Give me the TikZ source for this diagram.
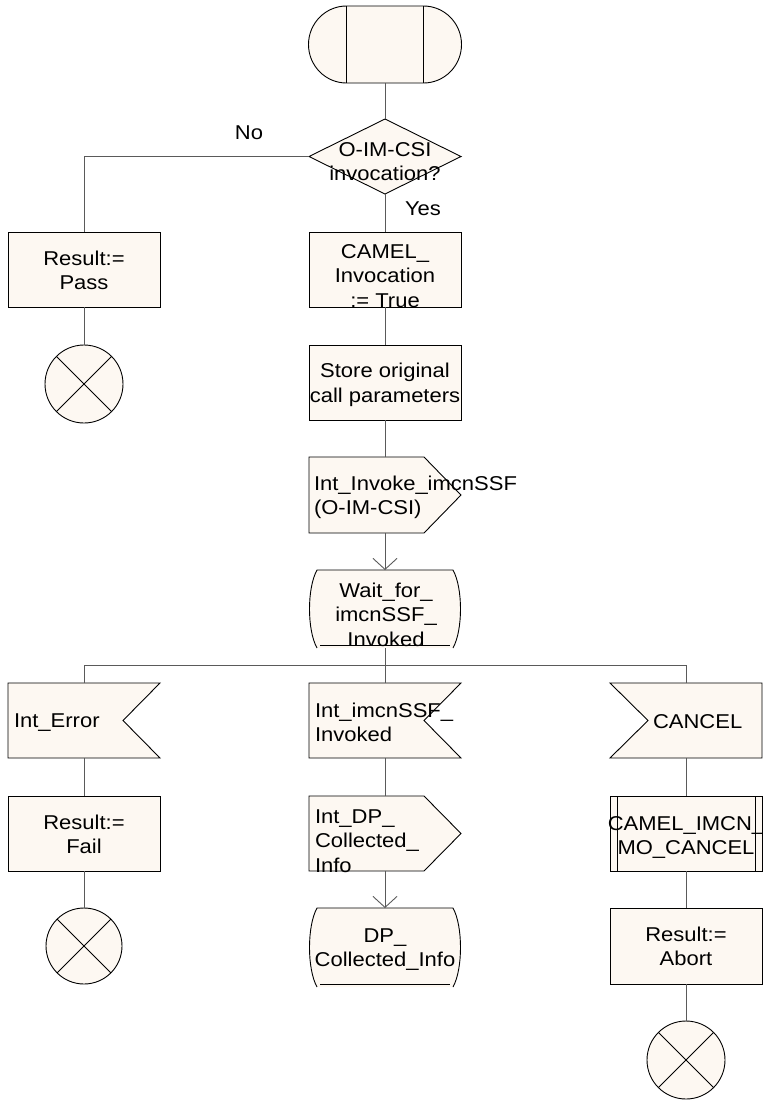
\documentclass[tikz,border=0pt]{standalone}
\usepackage{fontspec}
\setmainfont{Liberation Sans}[FakeStretch=1.1]
\usetikzlibrary{arrows.meta,calc}
\definecolor{cream}{RGB}{253,248,242}
\definecolor{lgrey}{RGB}{90,90,90}
\newcommand\sdlstate[1]{%
  \fill[cream] ($(#1.north west)+(8,0)$) -- ($(#1.north east)+(-8,0)$)
    .. controls ($(#1.north east)+(2,18)$) and ($(#1.south east)+(2,-18)$) .. ($(#1.south east)+(-8,0)$)
    -- ($(#1.south west)+(8,0)$)
    .. controls ($(#1.south west)+(-2,-18)$) and ($(#1.north west)+(-2,18)$) .. cycle;
  \draw[black,line width=0.9pt] ($(#1.south west)+(8,0)$)
    .. controls ($(#1.south west)+(-2,-18)$) and ($(#1.north west)+(-2,18)$) .. ($(#1.north west)+(8,0)$)
    -- ($(#1.north east)+(-8,0)$)
    .. controls ($(#1.north east)+(2,18)$) and ($(#1.south east)+(2,-18)$) .. ($(#1.south east)+(-8,0)$);
  \draw[black,line width=0.9pt] ($(#1.south west)+(11,-3)$) -- ($(#1.south east)+(-11,-3)$);%
}
\begin{document}
\begin{tikzpicture}[x=1pt,y=-1pt,
  shp/.style={draw=black,fill=cream,line width=0.9pt,line join=miter},
  conn/.style={draw=lgrey,line width=0.9pt},
  arr/.style={conn,-{Straight Barb[length=11pt,width=24pt]}},
  ghost/.style={rectangle,inner sep=0pt,outer sep=0pt,minimum width=152pt,minimum height=#1},
  ghost/.default=75pt,
  box/.style={ghost,shp},
  endc/.style={circle,shp,inner sep=0pt,outer sep=0pt,minimum size=#1,
    path picture={\draw[black,line width=0.9pt]
      (path picture bounding box.north west) -- (path picture bounding box.south east)
      (path picture bounding box.north east) -- (path picture bounding box.south west);}},
  txt/.style={inner sep=0pt,outer sep=0pt,font=\fontsize{20}{24.5}\selectfont},
]
\useasboundingbox (0,0) rectangle (763,1109);

% shape nodes
\node[ghost=77pt,minimum width=153pt] (start) at (385,44.5) {};
\node[ghost] (dia) at (385,156.5) {};
\node[box] (camel) at (385,269.5) {};
\node[box] (pass) at (84,269.5) {};
\node[endc=78pt] (end1) at (84,384) {};
\node[box] (store) at (385,382.5) {};
\node[ghost=76pt] (invoke) at (385,495) {};
\node[ghost=78pt] (wait) at (385,609) {};
\node[ghost] (interr) at (84,720.5) {};
\node[ghost] (invoked) at (385,720.5) {};
\node[ghost] (cancel) at (686,720.5) {};
\node[box] (fail) at (84,833.5) {};
\node[ghost] (dpinfo) at (385,833.5) {};
\node[box] (proc) at (686,833.5) {};
\node[endc=76pt] (end2) at (84,946) {};
\node[ghost=79pt] (dpstate) at (385,947.5) {};
\node[box,minimum height=76pt] (abort) at (686,946) {};
\node[endc=78pt] (end3) at (686,1060) {};

% outlines
\path[shp] ($(start.north west)+(38,0)$) -- ($(start.north east)+(-38,0)$)
  arc[start angle=-90,end angle=90,x radius=38,y radius=38.5]
  -- ($(start.south west)+(38,0)$)
  arc[start angle=90,end angle=270,x radius=38,y radius=38.5] -- cycle;
\draw[shp,fill=none] ($(start.north west)+(38,0)$) -- ($(start.south west)+(38,0)$)
  ($(start.north east)+(-38,0)$) -- ($(start.south east)+(-38,0)$);
\path[shp] (dia.north) -- (dia.east) -- (dia.south) -- (dia.west) -- cycle;
\path[shp] (invoke.north west) -- ($(invoke.north east)+(-37,0)$) -- (invoke.east)
  -- ($(invoke.south east)+(-37,0)$) -- (invoke.south west) -- cycle;
\path[shp] (dpinfo.north west) -- ($(dpinfo.north east)+(-37,0)$) -- (dpinfo.east)
  -- ($(dpinfo.south east)+(-37,0)$) -- (dpinfo.south west) -- cycle;
\path[shp] (interr.north west) -- (interr.north east) -- ($(interr.east)+(-37,0)$)
  -- (interr.south east) -- (interr.south west) -- cycle;
\path[shp] (invoked.north west) -- (invoked.north east) -- ($(invoked.east)+(-37,0)$)
  -- (invoked.south east) -- (invoked.south west) -- cycle;
\path[shp] (cancel.north west) -- (cancel.north east) -- (cancel.south east)
  -- (cancel.south west) -- ($(cancel.west)+(38,0)$) -- cycle;
\draw[shp,fill=none] ($(proc.north west)+(7,0)$) -- ($(proc.south west)+(7,0)$)
  ($(proc.north east)+(-7,0)$) -- ($(proc.south east)+(-7,0)$);
\sdlstate{wait}
\sdlstate{dpstate}

% connectors
\coordinate (bus) at (385,665);
\draw[conn] (start) -- (dia);
\draw[conn] (dia.west) -| (pass.north);
\draw[conn] (dia) -- (camel);
\draw[conn] (pass) -- (end1);
\draw[conn] (camel) -- (store);
\draw[conn] (store) -- (invoke);
\draw[arr] (invoke) -- (wait);
\draw[conn] (wait) -- (bus);
\draw[conn] (bus) -| (interr.north);
\draw[conn] (bus) -| (cancel.north);
\draw[conn] (bus) -- (invoked);
\draw[conn] (interr) -- (fail);
\draw[conn] (fail) -- (end2);
\draw[conn] (invoked) -- (dpinfo);
\draw[arr] (dpinfo) -- (dpstate);
\draw[conn] (cancel) -- (proc);
\draw[conn] (proc) -- (abort);
\draw[conn] (abort) -- (end3);

% texts (base anchor = baseline of the last line)
\node[txt,anchor=base] (t-no) at (249,139) {No};
\node[txt,anchor=base] (t-yes) at (423,215) {Yes};
\node[txt,align=center,anchor=base] (t-dia) at (385,180.5) {O-IM-CSI\\invocation?};
\node[txt,align=center,anchor=base] (t-camel) at (385,307) {CAMEL\_\\Invocation\\:= True};
\node[txt,align=center,anchor=base] (t-pass) at (84,289.5) {Result:=\\Pass};
\node[txt,align=center,anchor=base] (t-store) at (385,402) {Store original\\call parameters};
\node[txt,align=left,anchor=base west] (t-invoke) at (314,514.5) {Int\_Invoke\_imcnSSF\\(O-IM-CSI)};
\node[txt,align=center,anchor=base] (t-wait) at (386,646) {Wait\_for\_\\imcnSSF\_\\Invoked};
\node[txt,anchor=base west] (t-interr) at (14,727) {Int\_Error};
\node[txt,align=center,anchor=base] (t-fail) at (84,853.5) {Result:=\\Fail};
\node[txt,align=left,anchor=base west] (t-invoked) at (315,741.5) {Int\_imcnSSF\_\\Invoked};
\node[txt,align=left,anchor=base west] (t-dpinfo) at (315,872) {Int\_DP\_\\Collected\_\\Info};
\node[txt,align=center,anchor=base] (t-dpstate) at (385,966.5) {DP\_\\Collected\_Info};
\node[txt,anchor=base west] (t-cancel) at (653,728) {CANCEL};
\node[txt,align=center,anchor=base] (t-proc) at (686,854.5) {CAMEL\_IMCN\_\\MO\_CANCEL};
\node[txt,align=center,anchor=base] (t-abort) at (686,965.5) {Result:=\\Abort};
\end{tikzpicture}
\end{document}
